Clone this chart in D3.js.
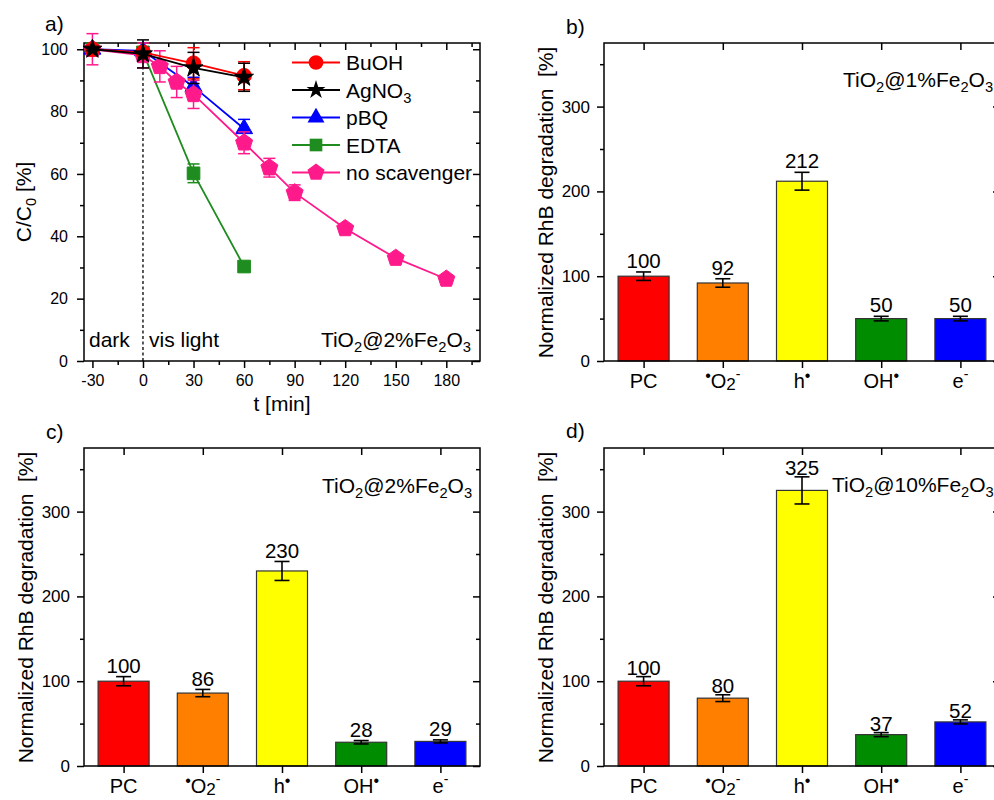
<!DOCTYPE html>
<html><head><meta charset="utf-8">
<script src="https://cdn.jsdelivr.net/npm/d3@7"></script>
<style>
body{margin:0;background:#fff}
svg{display:block}
text{font-family:"Liberation Sans",Arial,sans-serif;fill:#000}
</style>
</head><body>
<svg id="chart" width="994" height="800"></svg>
<script>
// ---------- Panel a data ----------
const timeShort = [-30, 0, 30, 60];
const timeLong = [-30, 0, 10, 20, 30, 60, 75, 90, 120, 150, 180];
const buohValues = [100, 99, 95.5, 91.5];
const buohErrors = [0.5, 1, 5, 4.5];
const agno3Values = [100, 98.5, 94, 91];
const agno3Errors = [0.5, 4.5, 5, 4.5];
const pbqValues = [100, 99.5, 88, 74.5];
const pbqErrors = [0.5, 1, 3, 3];
const edtaValues = [100, 99, 60.2, 30.3];
const edtaErrors = [0.5, 1, 3, 1];
const noScavValues = [100, 98, 94.5, 89.5, 85.5, 70, 62, 54, 42.5, 33, 26.3];
const noScavErrors = [5, 4, 5, 5, 4.5, 3.5, 3, 2.5, 1.5, 1, 1];
const timeTicks = [-30, 0, 30, 60, 90, 120, 150, 180];
const timeMinorTicks = [-15, 15, 45, 75, 105, 135, 165, 195];
const percentTicks = [0, 20, 40, 60, 80, 100];
const percentMinorTicks = [10, 30, 50, 70, 90];

// ---------- Bar panels data ----------
const categories = ["PC", "O2", "h", "OH", "e"];
const valuesB = [100, 92, 212, 50, 50];
const errorsB = [5, 5, 10.5, 2.7, 2.7];
const valuesC = [100, 86, 230, 28, 29];
const errorsC = [5.4, 4.3, 11.2, 2, 1.8];
const valuesD = [100, 80, 325, 37, 52];
const errorsD = [5.4, 4, 16, 2.4, 2.4];
const barTicks = [0, 100, 200, 300];
const barMinorTicks = [50, 150, 250, 350];

// ---------- styles ----------
const barColors = ["#ff0000", "#ff8000", "#ffff00", "#008c00", "#0000ff"];
const svg = d3.select("#chart");
const plain = d => String(d);

function rich(sel, parts, base) {
  let cur = 0;
  parts.forEach(p => {
    const sh = p.shift || 0;
    const ts = sel.append("tspan").text(p.t).attr("dy", sh - cur);
    if (p.scale) ts.attr("font-size", base * p.scale);
    cur = sh;
  });
}
function sub(t) { return {t: t, shift: 5, scale: 0.7}; }

function styleAxis(g, fs) {
  g.select(".domain").remove();
  g.attr("font-size", fs).attr("font-family", '"Liberation Sans", Arial, sans-serif');
  g.selectAll(".tick line").attr("stroke", "#000").attr("stroke-width", 1.5);
  g.selectAll(".tick text").attr("fill", "#000");
}

const symbolPentagon = {
  draw(ctx, size) {
    const r = Math.sqrt(size / (2.5 * Math.sin(2 * Math.PI / 5)));
    for (let i = 0; i < 5; i++) {
      const a = -Math.PI / 2 + i * 2 * Math.PI / 5;
      const px = r * Math.cos(a), py = r * Math.sin(a);
      if (i === 0) ctx.moveTo(px, py); else ctx.lineTo(px, py);
    }
    ctx.closePath();
  }
};

// ================= Panel a =================
(function () {
  const L = 84, R = 480, T = 43, B = 361;
  const x = d3.scaleLinear().domain([-35, 200]).range([L, R]);
  const y = d3.scaleLinear().domain([0, 102]).range([B, T]);
  const g = svg.append("g");

  // axes
  g.append("g").attr("transform", `translate(0,${B})`)
    .call(d3.axisBottom(x).tickValues(timeTicks).tickFormat(plain).tickSizeInner(7).tickSizeOuter(0).tickPadding(7))
    .call(s => styleAxis(s, 16));
  g.append("g").attr("transform", `translate(0,${B})`)
    .call(d3.axisBottom(x).tickValues(timeMinorTicks).tickSize(4).tickFormat(""))
    .call(s => styleAxis(s, 16));
  g.append("g").attr("transform", `translate(0,${T})`)
    .call(d3.axisTop(x).tickValues(timeTicks).tickSize(-7).tickFormat(""))
    .call(s => styleAxis(s, 16));
  g.append("g").attr("transform", `translate(0,${T})`)
    .call(d3.axisTop(x).tickValues(timeMinorTicks).tickSize(-4).tickFormat(""))
    .call(s => styleAxis(s, 16));
  g.append("g").attr("transform", `translate(${L},0)`)
    .call(d3.axisLeft(y).tickValues(percentTicks).tickFormat(plain).tickSizeInner(7).tickSizeOuter(0).tickPadding(9))
    .call(s => styleAxis(s, 16));
  g.append("g").attr("transform", `translate(${L},0)`)
    .call(d3.axisLeft(y).tickValues(percentMinorTicks).tickSize(4).tickFormat(""))
    .call(s => styleAxis(s, 16));
  g.append("g").attr("transform", `translate(${R},0)`)
    .call(d3.axisRight(y).tickValues(percentTicks).tickSize(-7).tickFormat(""))
    .call(s => styleAxis(s, 16));
  g.append("g").attr("transform", `translate(${R},0)`)
    .call(d3.axisRight(y).tickValues(percentMinorTicks).tickSize(-4).tickFormat(""))
    .call(s => styleAxis(s, 16));

  g.append("rect").attr("x", L).attr("y", T).attr("width", R - L).attr("height", B - T)
    .attr("fill", "none").attr("stroke", "#000").attr("stroke-width", 1.5);

  // dashed line at t=0
  g.append("line").attr("x1", x(0)).attr("x2", x(0)).attr("y1", y(0)).attr("y2", y(100))
    .attr("stroke", "#000").attr("stroke-width", 1.3).attr("stroke-dasharray", "3,2.5");

  const series = [
    {name: [{t: "BuOH"}], xs: timeShort, v: buohValues, e: buohErrors, color: "#ff0000", sym: d3.symbolCircle, size: 170},
    {name: [{t: "AgNO"}, sub("3")], xs: timeShort, v: agno3Values, e: agno3Errors, color: "#000000", sym: d3.symbolStar, size: 110},
    {name: [{t: "pBQ"}], xs: timeShort, v: pbqValues, e: pbqErrors, color: "#0000ff", sym: d3.symbolTriangle, size: 125},
    {name: [{t: "EDTA"}], xs: timeShort, v: edtaValues, e: edtaErrors, color: "#1e8c1e", sym: d3.symbolSquare, size: 160},
    {name: [{t: "no scavenger"}], xs: timeLong, v: noScavValues, e: noScavErrors, color: "#ff1a8c", sym: symbolPentagon, size: 190}
  ];
  const drawOrder = [3, 2, 4, 0, 1];
  const line = d3.line().x(d => x(d[0])).y(d => y(d[1]));
  drawOrder.forEach(i => {
    const s = series[i];
    const pts = s.xs.map((t, k) => [t, s.v[k], s.e[k]]);
    g.append("path").datum(pts).attr("d", line).attr("fill", "none")
      .attr("stroke", s.color).attr("stroke-width", 1.8);
    const eg = g.append("g").attr("stroke", s.color).attr("stroke-width", 1.5);
    pts.forEach(p => {
      const cx = x(p[0]), y1 = y(p[1] + p[2]), y2 = y(p[1] - p[2]);
      eg.append("line").attr("x1", cx).attr("x2", cx).attr("y1", y1).attr("y2", y2);
      eg.append("line").attr("x1", cx - 6).attr("x2", cx + 6).attr("y1", y1).attr("y2", y1);
      eg.append("line").attr("x1", cx - 6).attr("x2", cx + 6).attr("y1", y2).attr("y2", y2);
    });
    g.selectAll(null).data(pts).enter().append("path")
      .attr("d", d3.symbol().type(s.sym).size(s.size))
      .attr("transform", d => `translate(${x(d[0])},${y(d[1])})`)
      .attr("fill", s.color).attr("stroke", s.color).attr("stroke-width", 1);
  });

  // legend
  series.forEach((s, i) => {
    const ry = 62.5 + i * 27.5;
    g.append("line").attr("x1", 292).attr("x2", 340).attr("y1", ry).attr("y2", ry)
      .attr("stroke", s.color).attr("stroke-width", 1.8);
    g.append("path").attr("d", d3.symbol().type(s.sym).size(s.size))
      .attr("transform", `translate(316,${ry})`).attr("fill", s.color);
    const t = g.append("text").attr("x", 346).attr("y", ry + 7.5).attr("font-size", 21);
    rich(t, s.name, 21);
  });

  g.append("text").attr("x", 89).attr("y", 347).attr("font-size", 21).text("dark");
  g.append("text").attr("x", 149).attr("y", 347).attr("font-size", 21).text("vis light");
  const an = g.append("text").attr("x", 471).attr("y", 347).attr("font-size", 21).attr("text-anchor", "end");
  rich(an, [{t: "TiO"}, sub("2"), {t: "@2%Fe"}, sub("2"), {t: "O"}, sub("3")], 21);

  g.append("text").attr("x", (L + R) / 2 + 0).attr("y", 411).attr("font-size", 21)
    .attr("text-anchor", "middle").text("t [min]");
  const yt = g.append("text").attr("transform", "translate(31,202) rotate(-90)")
    .attr("font-size", 21).attr("text-anchor", "middle");
  rich(yt, [{t: "C/C"}, sub("0"), {t: " [%]"}], 21);
  g.append("text").attr("x", 45).attr("y", 31).attr("font-size", 21).text("a)");
})();

// ================= Bar panels =================
const categoryLabels = {
  PC: [{t: "PC"}],
  O2: [{t: "•", shift: -7, scale: 0.8}, {t: "O"}, {t: "2", shift: 2, scale: 0.85}, {t: "-", shift: -9, scale: 0.7}],
  h: [{t: "h"}, {t: "•", shift: -7, scale: 0.8}],
  OH: [{t: "OH"}, {t: "•", shift: -7, scale: 0.8}],
  e: [{t: "e"}, {t: "-", shift: -9, scale: 0.7}]
};

function barPanel(cfg) {
  const {L, T, values, errors, annotation, annX, annY, letter, letterY, labelGap, titleX} = cfg;
  const R = L + 396, B = T + 318;
  const x = d3.scalePoint().domain(categories).range([L, R]).padding(0.5);
  const y = d3.scaleLinear().domain([0, 375]).range([B, T]);
  const bw = 51;
  const g = svg.append("g");

  g.append("g").attr("transform", `translate(0,${B})`)
    .call(d3.axisBottom(x).tickSizeInner(7).tickSizeOuter(0).tickFormat(""))
    .call(s => styleAxis(s, 17));
  g.append("g").attr("transform", `translate(0,${T})`)
    .call(d3.axisTop(x).tickSize(-7).tickFormat(""))
    .call(s => styleAxis(s, 17));
  g.append("g").attr("transform", `translate(${L},0)`)
    .call(d3.axisLeft(y).tickValues(barTicks).tickFormat(plain).tickSizeInner(7).tickSizeOuter(0).tickPadding(7))
    .call(s => styleAxis(s, 17));
  g.append("g").attr("transform", `translate(${L},0)`)
    .call(d3.axisLeft(y).tickValues(barMinorTicks).tickSize(4).tickFormat(""))
    .call(s => styleAxis(s, 17));
  g.append("g").attr("transform", `translate(${R},0)`)
    .call(d3.axisRight(y).tickValues(barTicks).tickSize(-7).tickFormat(""))
    .call(s => styleAxis(s, 17));
  g.append("g").attr("transform", `translate(${R},0)`)
    .call(d3.axisRight(y).tickValues(barMinorTicks).tickSize(-4).tickFormat(""))
    .call(s => styleAxis(s, 17));

  // bars
  categories.forEach((c, i) => {
    const cx = x(c);
    g.append("rect").attr("x", cx - bw / 2).attr("y", y(values[i]))
      .attr("width", bw).attr("height", y(0) - y(values[i]))
      .attr("fill", barColors[i]).attr("stroke", "#333").attr("stroke-width", 1.2);
    const y1 = y(values[i] + errors[i]), y2 = y(values[i] - errors[i]);
    const eg = g.append("g").attr("stroke", "#000").attr("stroke-width", 1.6);
    eg.append("line").attr("x1", cx).attr("x2", cx).attr("y1", y1).attr("y2", y2);
    eg.append("line").attr("x1", cx - 7.5).attr("x2", cx + 7.5).attr("y1", y1).attr("y2", y1);
    eg.append("line").attr("x1", cx - 7.5).attr("x2", cx + 7.5).attr("y1", y2).attr("y2", y2);
    g.append("text").attr("x", cx).attr("y", y1 - labelGap).attr("font-size", 20.5)
      .attr("text-anchor", "middle").text(values[i]);
    const lt = g.append("text").attr("x", cx).attr("y", B + 27).attr("font-size", 20)
      .attr("text-anchor", "middle");
    rich(lt, categoryLabels[c], 20);
  });

  g.append("rect").attr("x", L).attr("y", T).attr("width", R - L).attr("height", B - T)
    .attr("fill", "none").attr("stroke", "#000").attr("stroke-width", 1.5);

  const an = g.append("text").attr("x", annX).attr("y", annY).attr("font-size", 21);
  rich(an, annotation, 21);

  g.append("text").attr("transform", `translate(${titleX},${(T + B) / 2 + 0.5}) rotate(-90)`)
    .attr("font-size", 21).attr("text-anchor", "middle")
    .attr("style", "white-space:pre").text("Normalized RhB degradation  [%]");
  g.append("text").attr("x", L - 38).attr("y", letterY).attr("font-size", 21).text(letter);
}

barPanel({L: 604, T: 43, values: valuesB, errors: errorsB,
  annotation: [{t: "TiO"}, sub("2"), {t: "@1%Fe"}, sub("2"), {t: "O"}, sub("3")],
  annX: 843, annY: 87, letter: "b)", letterY: 34, labelGap: 4, titleX: 553});
barPanel({L: 84, T: 448, values: valuesC, errors: errorsC,
  annotation: [{t: "TiO"}, sub("2"), {t: "@2%Fe"}, sub("2"), {t: "O"}, sub("3")],
  annX: 322, annY: 493, letter: "c)", letterY: 439, labelGap: 3.5, titleX: 33});
barPanel({L: 604, T: 448, values: valuesD, errors: errorsD,
  annotation: [{t: "TiO"}, sub("2"), {t: "@10%Fe"}, sub("2"), {t: "O"}, sub("3")],
  annX: 832, annY: 492, letter: "d)", letterY: 438, labelGap: 2, titleX: 553});
</script>
</body></html>
